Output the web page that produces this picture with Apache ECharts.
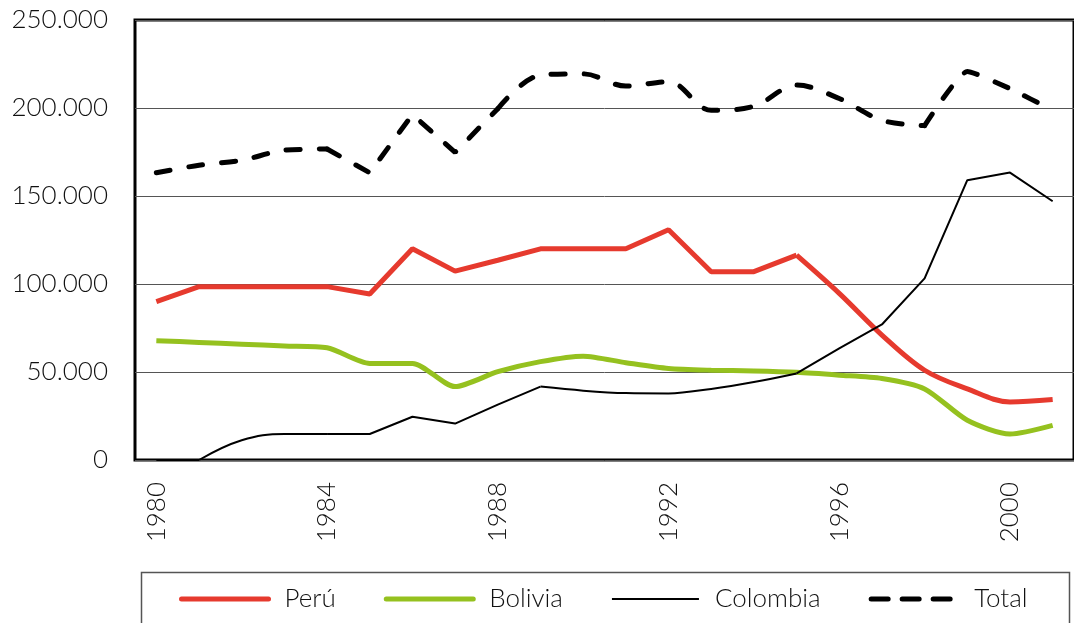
<!DOCTYPE html>
<html><head><meta charset="utf-8">
<script src="https://cdn.jsdelivr.net/npm/echarts@6/dist/echarts.min.js"></script>
<style>html,body{margin:0;padding:0;background:#fff}#c{width:1074px;height:623px}</style>
</head><body><div id="c"></div>
<script>
const years = ['1980','1981','1982','1983','1984','1985','1986','1987','1988','1989','1990','1991','1992','1993','1994','1995','1996','1997','1998','1999','2000','2001'];
const peru = [90000,98500,98500,98500,98500,94300,120000,107300,113500,120000,120000,120000,130800,107000,107000,116400,94700,71000,51000,40400,33000,34400];
const bolivia = [67800,66800,65800,64800,63800,54900,54900,41700,50200,55900,59000,55300,52000,51000,50600,49800,48200,46300,40400,22600,14800,19700];
const colombia = [0,0,11200,14800,14800,14800,24600,20700,31500,41700,39400,38000,37800,40400,44300,49200,63400,77000,103200,159000,163300,147000];
const total = [163200,167500,170300,176000,176700,163200,196300,174800,199600,218700,219400,212500,215000,198700,201000,213000,205400,193000,190000,220800,211000,198700];
const names = ['Perú','Bolivia','Colombia','Total'];

// segment [from, to] (indices) of a series, nulls elsewhere
function seg(arr, from, to) { return arr.map((v, i) => (i >= from && i <= to) ? v : null); }

const FONT = 'Lato';
const RED = '#E63A2E', GREEN = '#95C11F';
const peruStyle = {color: RED, width: 5};
const colStyle = {color: '#000', width: 2};
const totStyle = {color: '#000', width: 5, type: [14, 19], cap: 'round'};

function line(name, data, smooth, lineStyle, z) {
  return {name, type: 'line', data, smooth, symbol: 'circle', showSymbol: false, connectNulls: false,
    lineStyle, itemStyle: {color: lineStyle.color}, z: z || 2};
}

const chart = echarts.init(document.getElementById('c'));
chart.setOption({
  animation: false,
  grid: {left: 135, right: -13.6, top: 20, bottom: 163, show: true, borderColor: '#000', borderWidth: 3},
  graphic: [{type: 'rect', left: 139, top: 570, shape: {width: 928, height: 70},
    style: {fill: 'none', stroke: '#555', lineWidth: 1.5}, silent: true}],
  xAxis: {
    type: 'category', data: years, boundaryGap: true,
    axisLine: {show: false}, axisTick: {show: false},
    axisLabel: {interval: 3, rotate: 90, margin: 22, fontSize: 26, fontFamily: FONT, fontWeight: 300, color: '#111'}
  },
  yAxis: {
    type: 'value', min: 0, max: 250000, interval: 50000,
    axisLine: {show: false}, axisTick: {show: false},
    splitLine: {lineStyle: {color: '#555', width: 1}},
    axisLabel: {margin: 27, fontSize: 26, fontFamily: FONT, fontWeight: 300, color: '#111', padding: [6, 0, 0, 0],
      formatter: v => v === 0 ? '0' : (v / 1000) + '.000'}
  },
  legend: {
    data: [
      {name: names[0], lineStyle: {width: 5, color: RED, cap: 'round'}},
      {name: names[1], lineStyle: {width: 5, color: GREEN, cap: 'round'}},
      {name: names[2], lineStyle: {width: 2, color: '#000'}},
      {name: names[3], lineStyle: {width: 5, color: '#000', type: [17, 14], cap: 'round'}}
    ],
    left: 179, top: 586, right: -400, padding: 0,
    itemWidth: 87, itemHeight: 14, itemGap: 48,
    itemStyle: {opacity: 0},
    textStyle: {fontSize: 26, fontFamily: FONT, fontWeight: 300, color: '#111', padding: [0, 0, 0, 11]}
  },
  series: [
    line(names[0], seg(peru, 0, 15), false, peruStyle, 3),
    line(names[0], seg(peru, 15, 21), 0.35, peruStyle, 3),
    line(names[1], bolivia, 0.25, {color: GREEN, width: 5}, 2),
    line(names[2], seg(colombia, 0, 1), false, colStyle, 4),
    line(names[2], seg(colombia, 1, 4), 0.4, colStyle, 4),
    line(names[2], seg(colombia, 4, 9), false, colStyle, 4),
    line(names[2], seg(colombia, 9, 15), 0.35, colStyle, 4),
    line(names[2], seg(colombia, 15, 21), false, colStyle, 4),
    line(names[3], seg(total, 0, 4), 0.3, totStyle, 5),
    line(names[3], seg(total, 4, 8), false, totStyle, 5),
    line(names[3], seg(total, 8, 18), 0.35, totStyle, 5),
    line(names[3], seg(total, 18, 21), 0.15, totStyle, 5)
  ]
});
</script></body></html>
